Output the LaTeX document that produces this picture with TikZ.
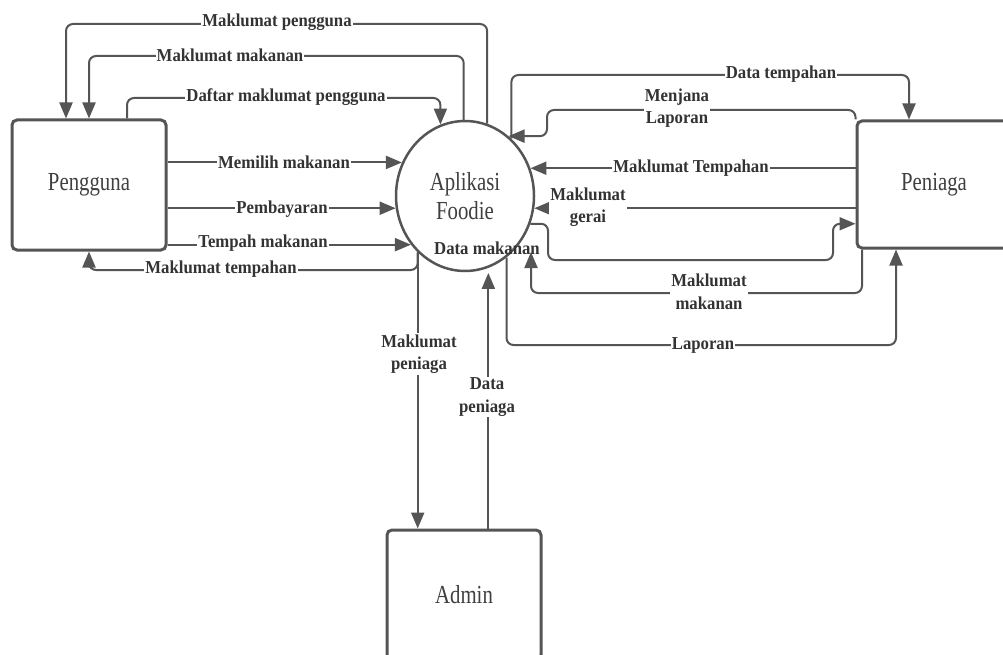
\documentclass[tikz,border=0pt]{standalone}
\usepackage{fontspec}
\setmainfont{Liberation Serif}
\newfontfamily\boxfont[FakeStretch=0.8]{Liberation Serif}
\newfontfamily\lblfont[FakeStretch=0.92]{Liberation Serif}
\usetikzlibrary{arrows.meta,shapes.geometric}
\definecolor{lc}{HTML}{555555}
\definecolor{tc}{HTML}{333333}
\definecolor{bc}{HTML}{404040}
\tikzset{
  entity/.style={draw=lc, line width=3pt, rounded corners=5pt, minimum width=154pt, minimum height=130pt,
    font=\boxfont\fontsize{26}{29}\selectfont, text=bc, inner sep=0pt},
  procE/.style={draw=lc, line width=2.5pt, ellipse, minimum width=138pt, minimum height=150pt, inner sep=0pt,
    font=\boxfont\fontsize{26}{29}\selectfont, text=bc, align=center},
  flow/.style={draw=lc, line width=2pt, rounded corners=7pt, -{Triangle[length=16pt,width=13pt]}},
  lbl/.style={fill=white, inner sep=1pt, text=tc, font=\lblfont\bfseries\fontsize{18.2}{22.5}\selectfont, align=center},
  lblnf/.style={inner sep=1pt, text=tc, font=\lblfont\bfseries\fontsize{18.2}{22.5}\selectfont, align=center},
}
\begin{document}
\begin{tikzpicture}[x=1pt,y=-1pt]
\useasboundingbox (0,0) rectangle (1003,655);
\clip (0,0) rectangle (1003,655);
\fill[white] (0,0) rectangle (1003,655);
% entities
\node[entity] (png) at (89,185) {Pengguna};
\node[procE] (app) at (465,196) {Aplikasi\\Foodie};
\node[entity, minimum height=127pt] (pen) at (934,184.5) {Peniaga};
\node[entity] (adm) at (464,595) {Admin};
% left flows
\draw[flow] (app.73.6) |- (66,24) -- (png.north -| 66,0);
\draw[flow] (app.91.5) |- (89,56) -- (png.north -| 89,0);
\draw[flow] (png.north -| 127,0) |- (app.109.7 |- 0,98) -- (app.109.7);
\draw[flow] (png.east |- app.152) -- (app.152);
\draw[flow] (png.east |- app.190.8) -- (app.190.8);
\draw[flow] (png.east |- app.222.2) -- (app.222.2);
\draw[flow] (app.230.5) |- (89,270) -- (png.south -| 89,0);
% admin flows
\draw[flow] (app.230.5) -- (app.230.5 |- adm.north);
\draw[flow, shorten >=5pt] (adm.north -| app.-72) -- (app.-72);
% right flows
\draw[flow] (app.51.7) |- (909,75) -- (pen.north -| 909,0);
\draw[flow] (pen.north west) |- (547,110) |- (app.54.2);
\draw[flow] (pen.west |- app.23.6) -- (app.23.6);
\draw[flow] (pen.west |- app.-10.8) -- (app.-10.8);
\draw[flow] (app.-23.6) -| (548,260) -| (833,240) |- (pen.west |- app.-23.6);
\coordinate (mmEnd) at (531,252);
\draw[flow] (pen.south -| 862,0) |- (531,293) -- (mmEnd);
\draw[flow] (app.-56.8) |- (896,345) -- (pen.south -| 896,0);
% labels
\node[lbl] (l1) at (277,22) {Maklumat pengguna};
\node[lbl] (l2) at (230,55) {Maklumat makanan};
\node[lbl] (l3) at (286,97) {Daftar maklumat pengguna};
\node[lbl] (l4) at (284,162) {Memilih makanan};
\node[lbl] (l5) at (282,209) {Pembayaran};
\node[lbl] (l6) at (263,243) {Tempah makanan};
\node[lbl] (l7) at (221,269) {Maklumat tempahan};
\node[lbl] (l8) at (419,354) {Maklumat\\peniaga};
\node[lbl] (l9) at (487,397) {Data\\peniaga};
\node[lbl] (l10) at (781,74) {Data tempahan};
\node[lbl] (l11) at (677,108) {Menjana\\Laporan};
\node[lbl] (l12) at (691,168) {Maklumat Tempahan};
\node[lbl] (l13) at (588,207) {Maklumat\\gerai};
\node[lblnf] (l14) at (487,248) {Data makanan};
\node[lbl] (l15) at (709,292) {Maklumat\\makanan};
\node[lbl] (l16) at (703,345) {Laporan};
\end{tikzpicture}
\end{document}
